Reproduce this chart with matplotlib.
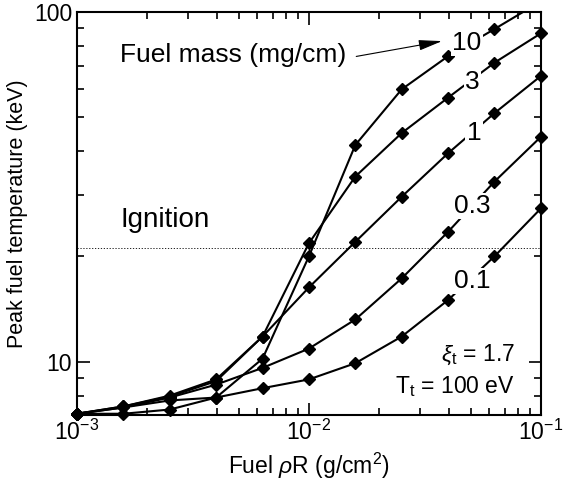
import numpy as np
import matplotlib
matplotlib.use("Agg")
import matplotlib.pyplot as plt

plt.rcParams['font.family'] = ['Liberation Sans', 'DejaVu Sans']
plt.rcParams['mathtext.fontset'] = 'custom'
plt.rcParams['mathtext.rm'] = 'Liberation Sans'
plt.rcParams['mathtext.it'] = 'Liberation Sans:italic'

# fuel rhoR (g/cm^2), 0.2-decade steps
rhoR = [1.0e-3, 1.585e-3, 2.512e-3, 3.981e-3, 6.31e-3, 1.0e-2,
        1.585e-2, 2.512e-2, 3.981e-2, 6.31e-2, 1.0e-1]

# peak fuel temperature (keV) per fuel mass (mg/cm)
T_10 = [7.1, 7.1, 7.3, 7.9, 10.2, 20.0, 41.6, 60.0, 74.6, 89.2, 107.0]
T_3 = [7.1, 7.45, 8.0, 8.9, 11.8, 21.8, 33.8, 45.0, 56.8, 71.5, 86.7]
T_1 = [7.1, 7.45, 7.95, 8.8, 11.8, 16.3, 22.0, 29.6, 39.4, 51.3, 65.5]
T_03 = [7.1, 7.4, 7.9, 8.6, 9.6, 10.9, 13.2, 17.3, 23.5, 32.7, 43.9]
T_01 = [7.1, 7.4, 7.75, 7.9, 8.4, 8.9, 9.9, 11.8, 15.0, 20.0, 27.4]

series = [T_10, T_3, T_1, T_03, T_01]
mass_labels = ['10', '3', '1', '0.3', '0.1']
label_pos = [(0.841, 0.922), (0.853, 0.826), (0.856, 0.699),
             (0.853, 0.518), (0.853, 0.332)]

T_ignition = 21.1
ylim = (7.04, 100)

fig = plt.figure(figsize=(5.64, 4.86), dpi=100)
ax = fig.add_axes([0.1365, 0.146, 0.8225, 0.830])

x = np.array(rhoR)
for T in series:
    T = np.array(T)
    ax.plot(x, T, color='black', lw=1.5, zorder=3)
    inside = T <= ylim[1]
    ax.plot(x[inside], T[inside], ls='none', marker='D', ms=6.5,
            color='black', clip_on=False, zorder=4)

ax.axhline(T_ignition, color='black', lw=0.6, ls=(0, (1.5, 2)), zorder=1)

for lab, (px, py) in zip(mass_labels, label_pos):
    ax.text(px, py, lab, transform=ax.transAxes, fontsize=19,
            ha='center', va='center', zorder=5,
            bbox=dict(facecolor='white', edgecolor='none', pad=1.0))

ax.text(0.093, 0.893, 'Fuel mass (mg/cm)', transform=ax.transAxes,
        fontsize=19, ha='left', va='center')
ax.annotate('', xy=(0.787, 0.927), xytext=(0.602, 0.889),
            xycoords='axes fraction', textcoords='axes fraction',
            arrowprops=dict(arrowstyle='-|>,head_length=0.9,head_width=0.2',
                            color='black', lw=0.8,
                            mutation_scale=16, shrinkA=0, shrinkB=0))
ax.text(0.093, 0.483, 'Ignition', transform=ax.transAxes,
        fontsize=20, ha='left', va='center')
ax.text(0.944, 0.150, r'$\xi_{\rm t}$ = 1.7', transform=ax.transAxes,
        fontsize=16.5, ha='right', va='center')
ax.text(0.944, 0.071, r'T$_{\rm t}$ = 100 eV', transform=ax.transAxes,
        fontsize=16.5, ha='right', va='center')

ax.set_xscale('log')
ax.set_yscale('log')
ax.set_xlim(1e-3, 1e-1)
ax.set_ylim(*ylim)
ax.set_yticks([10, 100])
ax.set_yticklabels(['10', '100'])
ax.yaxis.set_minor_formatter(matplotlib.ticker.NullFormatter())
ax.set_xlabel(r'Fuel $\rho$R (g/cm$^2$)', fontsize=16.5)
ax.set_ylabel('Peak fuel temperature (keV)', fontsize=15.5)
ax.tick_params(which='both', direction='in', top=True, right=True,
               labelsize=16.5, width=1.2)
ax.tick_params(which='major', length=9)
ax.tick_params(which='minor', length=5)
for s in ax.spines.values():
    s.set_linewidth(1.5)

fig.savefig('out.png', dpi=100)
